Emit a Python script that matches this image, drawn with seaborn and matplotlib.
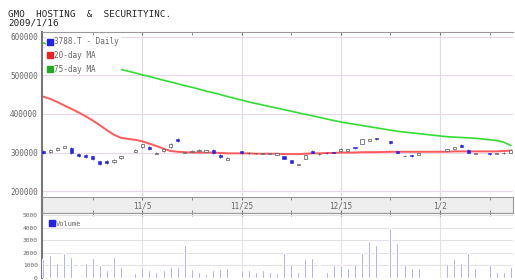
import numpy as np
import pandas as pd
import matplotlib
matplotlib.use("Agg")
import matplotlib.pyplot as plt
import seaborn as sns
import matplotlib.ticker as ticker
from matplotlib.lines import Line2D

# data (prices in thousand yen, NaN = market holiday)
nan = np.nan
dates = pd.bdate_range("2008-10-16", "2009-01-16")
tick_dates = ["2008-11-05", "2008-11-25", "2008-12-15", "2009-01-02"]

open_k = [304, 301, 306, 312, 312, 296, 294, 290, 278, 279, 275, 285, nan, 302, 314, 315, 296,
          303, 314, 336, 299, 302, 303, 302, 307, 294, 281, nan, 303, 298, 298, 297, 296, 294,
          291, 280, 268, 284, 305, 295, 300, 301, 303, 305, 314, 322, 330, 337, nan, 330, 303,
          291, 293, 294, nan, nan, nan, 304, 310, 320, 307, 297, nan, 298, 296, 298, 300]
high_k = [306, 308, 314, 318, 314, 298, 296, 291, 279, 280, 283, 292, nan, 308, 323, 316, 302,
          310, 325, 338, 302, 306, 308, 307, 308, 295, 289, nan, 304, 301, 300, 300, 299, 299,
          292, 281, 271, 294, 306, 298, 301, 302, 311, 310, 315, 336, 336, 338, nan, 331, 304,
          293, 294, 300, nan, nan, nan, 309, 315, 321, 308, 300, nan, 299, 299, 301, 308]
low_k = [297, 300, 305, 311, 296, 288, 287, 282, 268, 271, 274, 284, nan, 301, 313, 307, 295,
         302, 313, 328, 298, 301, 302, 301, 297, 286, 280, nan, 297, 297, 297, 296, 295, 293,
         283, 272, 267, 283, 299, 294, 297, 298, 302, 304, 310, 321, 329, 333, nan, 322, 298,
         290, 289, 293, nan, nan, nan, 303, 309, 314, 299, 296, nan, 294, 295, 297, 299]
close_k = [299, 306, 312, 316, 298, 290, 289, 283, 270, 273, 281, 291, nan, 306, 321, 309, 300,
           309, 323, 329, 301, 305, 307, 306, 299, 288, 287, nan, 298, 300, 299, 299, 298, 298,
           284, 274, 270, 293, 300, 297, 298, 299, 310, 309, 311, 334, 335, 334, nan, 324, 299,
           292, 290, 299, nan, nan, nan, 308, 314, 315, 300, 299, nan, 295, 298, 300, 306]
ma20_k = [445, 439, 431, 422, 413, 404, 394, 383, 371, 358, 346, 338, nan, 333, 329, 323, 317,
          310, 304, 302, 301, 300, 300, 300, 300, 299, 298, nan, 298, 298, 297, 297, 297, 297,
          296, 296, 296, 297, 298, 298, 299, 299, 300, 300, 300, 301, 301, 301, nan, 302, 302,
          302, 302, 302, nan, nan, nan, 302, 303, 303, 303, 303, nan, 303, 303, 304, 305]
ma75_k = [584, 578, 572, 566, 560, 554, 548, 542, 536, 528, 520, 515, nan, 506, 501, 497, 492,
          487, 483, 478, 473, 469, 464, 459, 455, 450, 445, nan, 436, 431, 427, 423, 419, 415,
          411, 407, 403, 399, 395, 391, 387, 383, 379, 376, 373, 370, 367, 364, nan, 358, 355,
          353, 351, 349, nan, nan, nan, 341, 340, 339, 338, 337, nan, 333, 331, 327, 318]
volume = [1500, 1800, 1200, 2000, 1650, 1400, 1200, 1600, 1000, 600, 1700, 900, nan, 400, 900,
          600, 500, 600, 900, 900, 2600, 700, 500, 300, 600, 700, 800, nan, 600, 600, 500, 600,
          500, 400, 2000, 1100, 500, 1500, 1600, 1100, 500, 1100, 1000, 800, 1100, 2000, 2900,
          2600, nan, 4000, 2800, 1100, 800, 800, nan, nan, nan, 1100, 1500, 1200, 2000, 800,
          nan, 1100, 500, 500, 900]

df = pd.DataFrame({"date": dates, "open": open_k, "high": high_k, "low": low_k,
                   "close": close_k, "ma20": ma20_k, "ma75": ma75_k, "volume": volume})
for c in ["open", "high", "low", "close", "ma20", "ma75"]:
    df[c] = df[c] * 1000
df["idx"] = np.arange(len(df))

sns.set_style("white")
plt.rcParams["font.family"] = ["DejaVu Sans Mono", "DejaVu Sans"]

W, H = 515, 280
fig = plt.figure(figsize=(W / 100, H / 100), dpi=100)
ax = fig.add_axes([42 / W, 83 / H, 471 / W, 165 / H])
band = fig.add_axes([42 / W, 67 / H, 471 / W, 16 / H], sharex=ax)
axv = fig.add_axes([42 / W, 2 / H, 471 / W, 65 / H], sharex=ax)

tick_pos = [int(df.index[df["date"] == pd.Timestamp(d)][0]) for d in tick_dates]
tick_lab = [f"{pd.Timestamp(d).month}/{pd.Timestamp(d).day}" for d in tick_dates]
minor_pos = np.arange(7, len(df), 14)

# price panel
sns.lineplot(data=df.dropna(subset=["ma75"]), x="idx", y="ma75", color="#33dd33",
             lw=1.2, ax=ax, zorder=2)
sns.lineplot(data=df.dropna(subset=["ma20"]), x="idx", y="ma20", color="#ff5a5a",
             lw=1.4, ax=ax, zorder=2)
cd = df.dropna(subset=["open"])
down = cd[cd["close"] < cd["open"]]
up = cd[cd["close"] >= cd["open"]]
ax.vlines(cd["idx"], cd["low"], cd["high"], color="#666666", lw=0.6, zorder=3)
ax.bar(down["idx"], down["open"] - down["close"], bottom=down["close"], width=0.45,
       color="#2222ee", edgecolor="#2222ee", lw=0.4, zorder=4)
ax.bar(up["idx"], up["close"] - up["open"], bottom=up["open"], width=0.45,
       color="white", edgecolor="#555555", lw=0.5, zorder=4)

ax.set_xlim(-0.15, 66.3)
ax.set_ylim(185000, 612000)
ax.set_yticks([200000, 300000, 400000, 500000, 600000])
ax.yaxis.set_major_formatter(ticker.FuncFormatter(lambda v, _: f"{v:.0f}"))
ax.set_xticks(tick_pos)
ax.set_xticks(minor_pos, minor=True)
ax.xaxis.set_ticks_position("top")
ax.tick_params(axis="x", which="both", direction="in", length=2, color="#777777",
               labeltop=False, labelbottom=False)
ax.tick_params(axis="y", labelsize=5.5, labelcolor="#666666", length=2, color="#777777", pad=1)
ax.grid(axis="y", color="#ecd6ec", lw=0.8)
ax.grid(axis="x", color="#e2dae2", lw=0.8)
ax.set_xlabel("")
ax.set_ylabel("")
for s in ["right", "bottom"]:
    ax.spines[s].set_visible(False)
ax.spines["top"].set_color("#999999")
ax.spines["left"].set_color("#777777")
ax.spines["left"].set_linewidth(1.5)

handles = [
    Line2D([], [], marker="s", ls="none", mfc="#2222ee", mec="#2222ee", ms=4, label="3788.T - Daily"),
    Line2D([], [], marker="s", ls="none", mfc="#ee2222", mec="#ee2222", ms=4, label="20-day MA"),
    Line2D([], [], marker="s", ls="none", mfc="#22aa22", mec="#22aa22", ms=4, label="75-day MA"),
]
leg = ax.legend(handles=handles, loc="upper left", frameon=True, facecolor="white",
                edgecolor="none", framealpha=1, fontsize=5.5, handletextpad=0.1,
                borderpad=0.2, labelspacing=0.6, borderaxespad=0.5, handlelength=0.8)
for t in leg.get_texts():
    t.set_color("#666666")

# date band
band.set_facecolor("#eeeeee")
band.set_yticks([])
band.set_xticks(tick_pos, tick_lab)
band.set_xticks(minor_pos, minor=True)
band.tick_params(axis="x", which="both", direction="in", length=2, color="#777777",
                 top=True, bottom=True, labelsize=5.5, labelcolor="#666666", pad=-8.5)
for s in band.spines.values():
    s.set_color("#999999")
band.spines["left"].set_color("#777777")
band.spines["left"].set_linewidth(1.5)

# volume panel
vd = df.dropna(subset=["volume"])
axv.bar(vd["idx"], vd["volume"], width=0.28, color="#8080ff", zorder=3)
axv.set_ylim(0, 5150)
axv.set_yticks([0, 1000, 2000, 3000, 4000, 5000])
axv.tick_params(axis="y", labelsize=4.5, labelcolor="#666666", length=2, color="#777777", pad=1)
axv.set_xticks(tick_pos)
axv.set_xticks(minor_pos, minor=True)
axv.xaxis.set_ticks_position("top")
axv.tick_params(axis="x", which="both", direction="in", length=2, color="#777777",
                labeltop=False, labelbottom=False)
axv.grid(axis="y", color="#e4e0e4", lw=0.8)
axv.grid(axis="x", color="#e2e2e2", lw=0.8)
for s in ["right", "bottom"]:
    axv.spines[s].set_visible(False)
axv.spines["top"].set_color("#999999")
axv.spines["left"].set_color("#777777")
axv.spines["left"].set_linewidth(1.5)
vleg = axv.legend(handles=[Line2D([], [], marker="s", ls="none", mfc="#2222ee", mec="#2222ee",
                                  ms=4, label="Volume")],
                  loc="upper left", frameon=False, fontsize=5, handletextpad=0.1,
                  borderaxespad=0.7, handlelength=0.8)
for t in vleg.get_texts():
    t.set_color("#666666")

fig.text(8 / W, 1 - 17 / H, "GMO  HOSTING  &  SECURITYINC.", fontsize=6.7, color="#222222",
         family="DejaVu Sans Mono")
fig.text(8 / W, 1 - 25 / H, "2009/1/16", fontsize=6.7, color="#222222",
         family="DejaVu Sans Mono")

fig.savefig("out.png", dpi=100)
